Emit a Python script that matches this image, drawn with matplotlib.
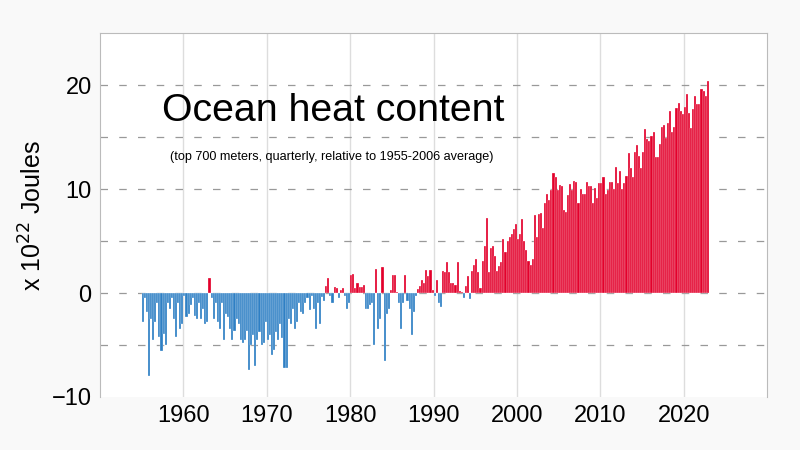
import numpy as np
import matplotlib
matplotlib.use("Agg")
import matplotlib.pyplot as plt

plt.rcParams['font.family'] = ['Liberation Sans', 'DejaVu Sans']

seg_1955_1976 = [
    -2.8,-0.5,-1.8,-8.0, -2.5,-4.5,-2.8,-1.0, -4.2,-5.6,-3.9,-5.0, -1.0,-1.5,-0.5,-2.5,
    -4.2,-1.0,-3.5,-3.0, -0.3,-2.3,-2.0,-1.2, -0.5,-2.2,-2.5,-1.0, -2.5,-1.5,-3.0,-2.8,
    1.4,-0.5,-2.5,-1.0, -2.8,-3.5,-1.0,-4.5, -2.0,-2.3,-3.5,-4.5, -3.7,-2.5,-3.0,-4.5,
    -4.8,-4.5,-3.7,-7.4, -5.0,-4.0,-7.0,-4.5, -3.8,-5.0,-4.8,-2.8, -4.5,-4.0,-6.0,-5.5,
    -3.8,-4.5,-3.0,-4.3, -7.2,-7.2,-2.5,-3.0, -1.5,-3.5,-2.8,-1.0, -1.8,-2.0,-1.0,-0.5,
    -1.6,-0.3,-1.5,-3.5, -1.0,-3.0,-0.4,-0.8]
seg_1977_1994 = [
    0.7,1.4,-0.3,-1.0, 0.6,0.5,-0.5,0.3, 0.5,-0.3,-1.5,-1.0, 1.7,1.8,0.5,1.0,
    0.6,0.6,0.8,-1.5, -1.5,-1.2,-1.0,-5.0, 2.3,-3.5,-2.5,2.5, -6.5,-2.0,-1.5,0.3,
    1.7,1.7,0.1,-1.0, -3.5,-1.0,1.7,-0.8, -1.5,-4.0,-1.8,-0.3, 0.4,0.7,1.3,1.0,
    2.2,1.6,2.2,0.3, -0.3,1.3,-1.0,-1.3, 2.1,2.0,3.0,2.0, 1.0,1.0,0.8,3.0,
    0.2,0.1,-0.5,0.7, 1.6,-0.6]
seg_1994_2007 = [
    2.1,2.7,3.3,2.0,0.5,3.1,4.5,7.2,2.0,4.3,4.5,3.6,2.1,2.6,3.0,5.2,3.9,5.0,5.4,5.7,
    6.2,6.6,5.2,5.7,7.1,5.0,4.1,3.1,2.7,3.3,7.5,5.4,7.6,7.7,6.3,8.7,9.5,9.0,9.9,11.6,
    11.2,9.9,10.4,10.3,8.0,7.8,9.4,10.5,9.9,10.8,10.7,8.7,10.0]
seg_2007_2022 = [
    9.5,9.5,10.7,10.3,10.3,8.7,10.1,9.1,10.6,10.6,11.2,9.5,9.9,10.7,10.7,10.0,
    12.1,10.6,11.7,10.0,10.6,11.3,13.5,12.0,11.2,13.6,14.2,13.2,12.0,13.6,15.8,14.8,
    14.6,15.1,15.5,13.1,13.1,14.3,16.0,16.2,14.9,16.4,17.5,15.5,16.0,17.8,18.3,17.5,
    17.2,17.9,19.2,17.3,15.9,17.7,19.0,18.2,18.2,19.6,19.4,19.0,20.4]

values = np.array(seg_1955_1976 + seg_1977_1994 + seg_1994_2007 + seg_2007_2022)
years = 1955 + np.arange(len(values)) / 4

fig = plt.figure(figsize=(8, 4.5), dpi=100, facecolor="#f9f9f9")
ax = fig.add_axes([0.125, 0.118, 0.834, 0.808])
ax.set_facecolor("white")

colors = np.where(values >= 0, "#e3002b", "#2e7fc4")
ax.bar(years + 0.125, values, width=0.25, color=colors, edgecolor="#ffffff", linewidth=0.2, zorder=3)

ax.set_xlim(1950, 2030)
ax.set_ylim(-10, 25)
ax.set_xticks(range(1960, 2030, 10))
ax.set_yticks([-10, 0, 10, 20])
ax.set_yticklabels(["\u221210", "0", "10", "20"])
ax.tick_params(labelsize=17, length=0, pad=6)
for v in range(1960, 2030, 10):
    ax.axvline(v, color="#dddddd", lw=1, zorder=1)
for h in [-5, 0, 5, 10, 15, 20]:
    ax.axhline(h, color="#999999", lw=0.9, ls=(0, (6, 9)), zorder=1)
ax.spines["bottom"].set_visible(False)
for s in ["left", "top", "right"]:
    ax.spines[s].set_color("#bbbbbb")

ax.set_ylabel("x 10$^{22}$ Joules", fontsize=18)
ax.text(1957.4, 17.5, "Ocean heat content", fontsize=28.3, va="center")
ax.text(1958.4, 13.1, "(top 700 meters, quarterly, relative to 1955-2006 average)", fontsize=9.1, va="center")

fig.savefig("out.png", facecolor=fig.get_facecolor())
